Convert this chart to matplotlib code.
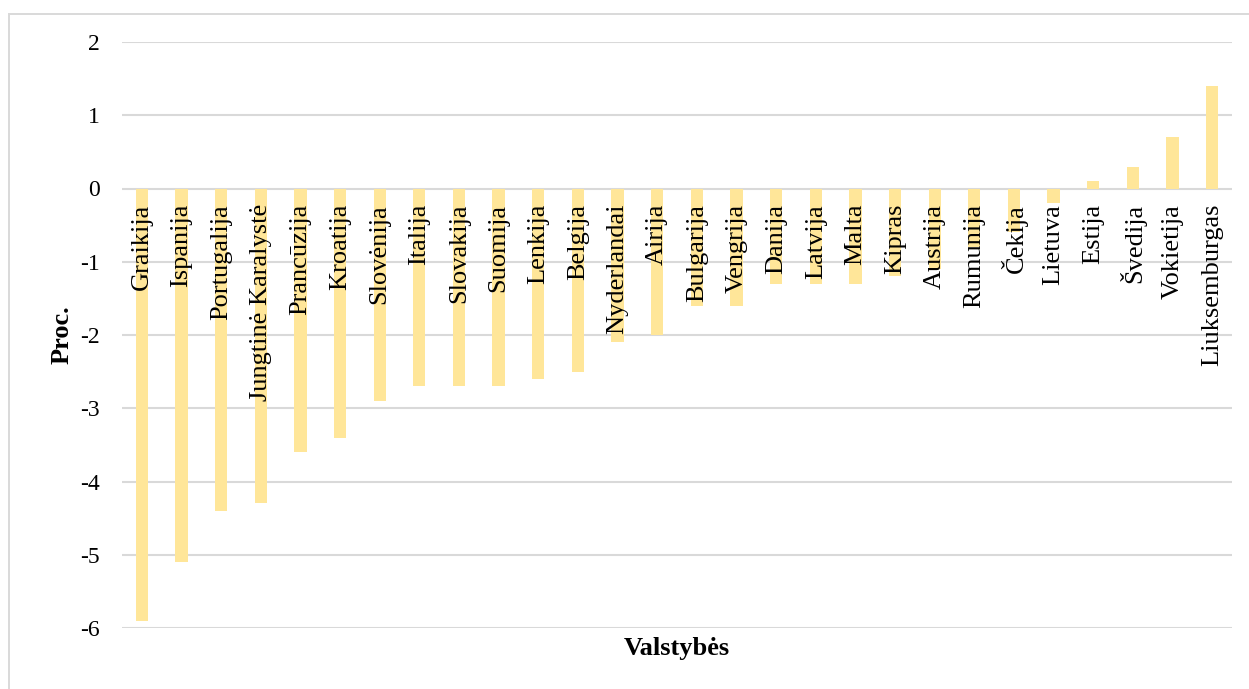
import matplotlib.pyplot as plt
from matplotlib.patches import Rectangle

# countries and change (proc.)
countries = ["Graikija", "Ispanija", "Portugalija", "Jungtinė Karalystė", "Prancūzija",
             "Kroatija", "Slovėnija", "Italija", "Slovakija", "Suomija", "Lenkija",
             "Belgija", "Nyderlandai", "Airija", "Bulgarija", "Vengrija", "Danija",
             "Latvija", "Malta", "Kipras", "Austrija", "Rumunija", "Čekija", "Lietuva",
             "Estija", "Švedija", "Vokietija", "Liuksemburgas"]
values = [-5.9, -5.1, -4.4, -4.3, -3.6, -3.4, -2.9, -2.7, -2.7, -2.7, -2.6,
          -2.5, -2.1, -2.0, -1.6, -1.6, -1.3, -1.3, -1.3, -1.2, -1.1, -0.8,
          -0.6, -0.2, 0.1, 0.3, 0.7, 1.4]
y_ticks = [-6, -5, -4, -3, -2, -1, 0, 1, 2]

plt.rcParams['font.family'] = ['Liberation Serif', 'DejaVu Serif']
plt.rcParams['axes.unicode_minus'] = False

W, H = 1249, 689
fig = plt.figure(figsize=(W / 100, H / 100), dpi=100)
ax = fig.add_axes([122 / W, (H - 628) / H, (1232 - 122) / W, (628 - 42) / H])

x = range(len(countries))
ax.bar(x, values, width=0.31, color='#FFE699', zorder=2)

ax.set_xlim(-0.5, len(countries) - 0.5)
ax.set_ylim(-6, 2)
ax.set_yticks(y_ticks)
ax.set_yticklabels([str(v) for v in y_ticks], fontsize=17)
ax.tick_params(axis='y', length=0, pad=16)
ax.set_xticks([])
ax.grid(axis='y', color='#D9D9D9', linewidth=1.5, zorder=1)
for s in ax.spines.values():
    s.set_visible(False)

# category labels under the zero line
for i, name in enumerate(countries):
    ax.text(i, -0.21, name, rotation=90, ha='center', va='top',
            fontsize=19, zorder=3)

fig.text(62 / W, 1 - 335 / H, 'Proc.', rotation=90, ha='center', va='center',
         fontsize=19, fontweight='bold')
fig.text(677 / W, 1 - 648 / H, 'Valstybės', ha='center', va='center',
         fontsize=19, fontweight='bold')

# outer chart border (left/top visible)
fig.add_artist(Rectangle((9 / W, -0.1), 1.2, (H - 14) / H + 0.1,
                         transform=fig.transFigure, fill=False,
                         edgecolor='#D9D9D9', linewidth=1.4))

fig.savefig('out.png', dpi=100)
